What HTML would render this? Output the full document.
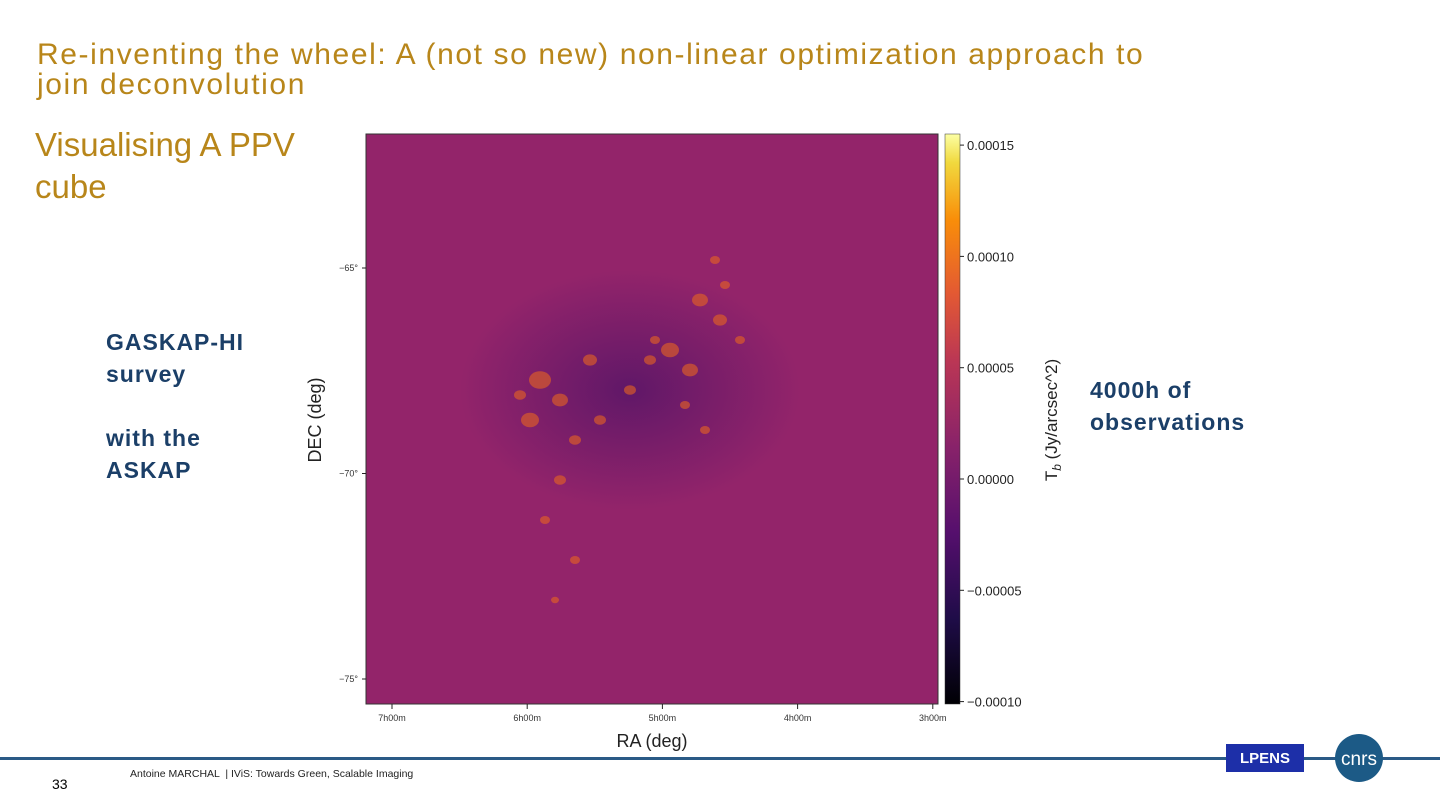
<!DOCTYPE html>
<html><head><meta charset="utf-8"><style>
body{margin:0;width:1440px;height:810px;background:#fff;position:relative;overflow:hidden;font-family:"Liberation Sans",sans-serif}
.a{position:absolute}
.title{left:37px;top:40px;color:#b8861a;font-size:30px;line-height:30px;letter-spacing:1.6px;white-space:nowrap}
.sub{left:35px;top:124px;color:#b8861a;font-size:33px;line-height:42px}
.blue{color:#1b3f68;font-weight:bold;font-size:23px;line-height:32px;letter-spacing:1px}
</style></head><body>
<div class="a title">Re-inventing the wheel: A (not so new) non-linear optimization approach to<br>join deconvolution</div>
<div class="a sub">Visualising A PPV<br>cube</div>
<div class="a blue" style="left:106px;top:326px">GASKAP-HI<br>survey<br><br>with the<br>ASKAP</div>
<div class="a blue" style="left:1090px;top:374px">4000h of<br>observations</div>
<svg class="a" style="left:0;top:0" width="1440" height="810">
<defs>
<linearGradient id="inf" x1="0" y1="1" x2="0" y2="0">
<stop offset="0" stop-color="#000004"/><stop offset="0.15" stop-color="#1f0c48"/><stop offset="0.3" stop-color="#550f6d"/><stop offset="0.45" stop-color="#88226a"/><stop offset="0.6" stop-color="#ba3655"/><stop offset="0.72" stop-color="#e35933"/><stop offset="0.85" stop-color="#f98e09"/><stop offset="0.95" stop-color="#f1d93e"/><stop offset="1" stop-color="#fcffa4"/>
</linearGradient>
<radialGradient id="dk" cx="0.5" cy="0.5" r="0.5"><stop offset="0" stop-color="#5a1668" stop-opacity="0.9"/><stop offset="1" stop-color="#5a1668" stop-opacity="0"/></radialGradient>
</defs>
<rect x="366" y="134" width="572" height="570" fill="#93246a" stroke="#333" stroke-width="1"/>
<g id="em"></g>
<rect x="945" y="134" width="15" height="570" fill="url(#inf)" stroke="#333" stroke-width="0.5"/>
<g id="ax"></g>
<text x="652" y="747" font-size="18" fill="#222" text-anchor="middle">RA (deg)</text>
<text transform="translate(321,420) rotate(-90)" font-size="18" fill="#222" text-anchor="middle">DEC (deg)</text>
<text transform="translate(1057,420) rotate(-90)" font-size="17" fill="#222" text-anchor="middle">T<tspan font-style="italic" font-size="12" dy="4">b</tspan><tspan dy="-4"> (Jy/arcsec^2)</tspan></text>
<rect x="0" y="757" width="1440" height="3" fill="#2a5a86"/>
<rect x="1226" y="744" width="78" height="28" fill="#1d2fa8"/>
<text x="1265" y="763" font-size="15" fill="#fff" text-anchor="middle" font-weight="bold">LPENS</text>
<circle cx="1359" cy="758" r="24" fill="#1c5a86"/>
<text x="1359" y="765" font-size="19" fill="#fff" text-anchor="middle">cnrs</text>
</svg>
<div class="a" style="left:52px;top:776px;font-size:14px">33</div>
<div class="a" style="left:130px;top:768px;font-size:10.5px;color:#222">Antoine MARCHAL &nbsp;| IViS: Towards Green, Scalable Imaging</div>
<script>
const cbTicks=[0.00015,0.00010,0.00005,0.00000,-0.00005,-0.00010];
const cbLabels=["0.00015","0.00010","0.00005","0.00000","\u22120.00005","\u22120.00010"];
const decTicks=[-65,-70,-75];
const decLabels=["\u221265\u00b0","\u221270\u00b0","\u221275\u00b0"];
const raTicks=[7,6,5,4,3];
const raLabels=["7h00m","6h00m","5h00m","4h00m","3h00m"];
const blobX=[540,560,590,530,670,700,720,690,600,560,545,575,715,650,630,705,555,740,575,520,685,725,655];
const blobY=[380,400,360,420,350,300,320,370,420,480,520,560,260,360,390,430,600,340,440,395,405,285,340];
const blobR=[11,8,7,9,9,8,7,8,6,6,5,5,5,6,6,5,4,5,6,6,5,5,5];
const NS="http://www.w3.org/2000/svg";
const ax=document.getElementById('ax'),em=document.getElementById('em');
const cbY=v=>479-(v/0.00005)*111.3;
const decY=d=>268+(-65-d)*41.1;
const raX=h=>392+(7-h)*135.2;
function mk(t,a,p){const e=document.createElementNS(NS,t);for(const k in a)e.setAttribute(k,a[k]);(p||ax).appendChild(e);return e;}
let d=mk('ellipse',{cx:630,cy:390,rx:170,ry:120,fill:'url(#dk)'},em);


blobX.forEach((x,i)=>{
 let b=mk('ellipse',{cx:x,cy:blobY[i],rx:blobR[i],ry:blobR[i]*0.8,fill:'#e8641f',opacity:0.6},em);
 
 
});
cbTicks.forEach((v,i)=>{
 const y=cbY(v);
 mk('line',{x1:960,x2:964,y1:y,y2:y,stroke:'#222'});
 let t=mk('text',{x:967,y:y+5,'font-size':13,fill:'#222'});t.textContent=cbLabels[i];
 
 
});
decTicks.forEach((v,i)=>{
 const y=decY(v);
 mk('line',{x1:362,x2:366,y1:y,y2:y,stroke:'#222'});
 let t=mk('text',{x:358,y:y+3,'font-size':9,fill:'#333','text-anchor':'end'});t.textContent=decLabels[i];
 
 
});
raTicks.forEach((v,i)=>{
 const x=raX(v);
 mk('line',{x1:x,x2:x,y1:704,y2:709,stroke:'#222'});
 let t=mk('text',{x:x,y:721,'font-size':9,fill:'#333','text-anchor':'middle'});t.textContent=raLabels[i];
 
 
});
</script>
</body></html>
